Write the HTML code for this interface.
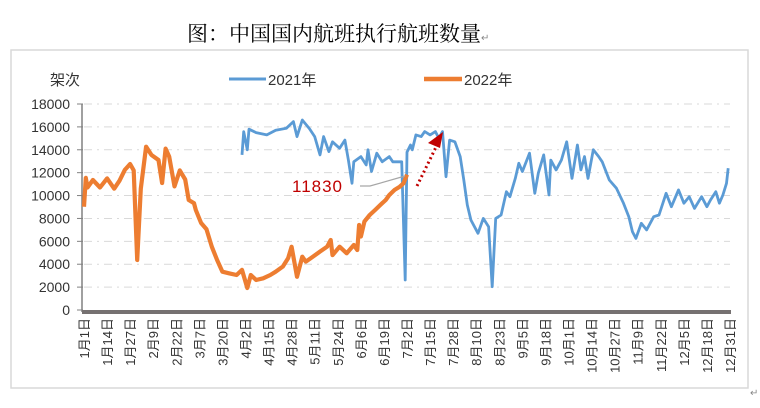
<!DOCTYPE html>
<html><head><meta charset="utf-8"><style>
html,body{margin:0;padding:0;background:#fff;width:760px;height:408px;overflow:hidden}
svg text{font-family:"Liberation Sans","Noto Sans CJK SC",sans-serif}
</style></head><body>
<svg id="chart" width="760" height="408" xmlns="http://www.w3.org/2000/svg">
<text x="187" y="41" font-size="21" style="font-family:'Liberation Serif','Noto Serif CJK SC','AR PL UMing CN',serif" fill="#000">图：中国国内航班执行航班数量<tspan font-size="10" fill="#888">↵</tspan></text>
<rect x="11" y="50" width="737" height="338" fill="none" stroke="#d9d9d9" stroke-width="1.5"/>
<text x="50" y="85" font-size="15" fill="#333">架次</text>
<line x1="229" y1="79" x2="266" y2="79" stroke="#5b9bd5" stroke-width="3"/>
<text x="268" y="85" font-size="15" fill="#333">2021年</text>
<line x1="424" y1="79" x2="462" y2="79" stroke="#ed7d31" stroke-width="4.5"/>
<text x="464" y="85" font-size="15" fill="#333">2022年</text>
<g id="grid"></g><g id="xlabels"></g><g id="series"></g>
<polyline points="360,186 370,186 405,176" fill="none" stroke="#a6a6a6" stroke-width="1.2"/>
<text x="292" y="192" font-size="17" fill="#c00000" letter-spacing="1">11830</text>
<line x1="417" y1="186" x2="437" y2="145" stroke="#c00000" stroke-width="3" stroke-dasharray="2,3"/>
<polygon points="443,132 428,143 440,148" fill="#c00000"/>
<text x="750" y="396" font-size="10" fill="#888">↵</text>
</svg>
<script>
const yTicks=[0,2000,4000,6000,8000,10000,12000,14000,16000,18000];
const xTickLabels=["1月1日","1月14日","1月27日","2月9日","2月22日","3月7日","3月20日","4月2日","4月15日","4月28日","5月11日","5月24日","6月6日","6月19日","7月2日","7月15日","7月28日","8月10日","8月23日","9月5日","9月18日","10月1日","10月14日","10月27日","11月9日","11月22日","12月5日","12月18日","12月31日"];
const xTickDays=[0,13,26,39,52,65,78,91,104,117,130,143,156,169,182,195,208,221,234,247,260,273,286,299,312,325,338,351,364];
const days2022=[0,1,2,5,9,13,17,20,23,26,28,30,32,35,38,42,44,46,48,51,54,57,59,62,63,66,69,72,75,78,82,86,89,92,94,97,101,105,108,112,115,117,120,123,125,129,133,137,139,140,144,148,152,154,155,156,158,161,164,167,170,172,175,178,180,182];
const values2022=[9030,11540,10700,11360,10700,11500,10600,11300,12240,12760,12200,4370,10600,14270,13550,13110,11100,14100,13400,10800,12200,11400,9610,9330,8740,7600,7050,5530,4370,3350,3200,3060,3500,1920,3060,2620,2770,3060,3350,3790,4520,5530,2900,4660,4220,4660,5100,5530,6120,4800,5530,4950,5680,5240,7430,6420,7720,8300,8740,9180,9610,10050,10490,10780,11070,11830];
const days2021=[89,90,92,93,97,103,108,114,118,120,123,127,130,133,135,138,140,144,147,149,151,152,156,159,160,162,165,168,172,174,179,181,182,184,185,187,190,192,195,198,200,202,204,206,209,212,214,216,218,222,225,228,230,232,235,238,240,243,245,247,251,254,256,259,262,263,266,269,272,275,278,280,282,284,287,290,292,296,300,304,307,309,311,314,317,321,324,328,331,335,338,341,344,348,351,353,356,358,360,362,363];
const values2021=[13550,15590,14000,15800,15500,15300,15700,15880,16460,15150,16600,15850,15150,13550,15150,13840,14700,14130,14850,13100,11070,12950,13400,12680,14000,12100,13700,12950,13400,12950,12950,2620,13800,14420,14000,15300,15150,15590,15300,15590,15000,15590,11650,14850,14700,13400,11360,9180,7860,6700,8000,7280,2040,8000,8300,10340,9900,11500,12820,12100,13700,10200,11950,13550,10050,13100,12240,13100,14700,11500,14420,12240,13400,11500,14000,13400,12950,11360,10640,9330,8150,6850,6260,7580,7000,8150,8300,10200,9030,10490,9330,9900,8880,9900,9030,9610,10340,9330,10050,11070,12390];
const NS="http://www.w3.org/2000/svg";
const X=d=>84+d*646/364, Y=v=>310-v*206/18000;
const grid=document.getElementById('grid');
yTicks.forEach(v=>{
 if(v>0){const l=document.createElementNS(NS,'line');
 l.setAttribute('x1',84);l.setAttribute('x2',730);l.setAttribute('y1',Y(v));l.setAttribute('y2',Y(v));
 l.setAttribute('stroke','#d9d9d9');l.setAttribute('stroke-dasharray','8,5,2,5');
 
 
 grid.appendChild(l);}
 const tk=document.createElementNS(NS,'line');
 tk.setAttribute('x1',77);tk.setAttribute('x2',83);tk.setAttribute('y1',Y(v));tk.setAttribute('y2',Y(v));tk.setAttribute('stroke','#808080');
 
 
 grid.appendChild(tk);
 const t=document.createElementNS(NS,'text');
 t.setAttribute('x',70);t.setAttribute('y',Y(v)+5);t.setAttribute('text-anchor','end');t.setAttribute('font-size','14');t.setAttribute('fill','#333');
 t.textContent=v;
 
 
 grid.appendChild(t);
});
const va=document.createElementNS(NS,'line');
va.setAttribute('x1',82);va.setAttribute('x2',82);va.setAttribute('y1',Y(18000));va.setAttribute('y2',312);va.setAttribute('stroke','#808080');va.setAttribute('stroke-width','1.5');


grid.appendChild(va);
const ha=document.createElementNS(NS,'line');
ha.setAttribute('x1',82);ha.setAttribute('x2',731);ha.setAttribute('y1',312);ha.setAttribute('y2',312);ha.setAttribute('stroke','#767171');ha.setAttribute('stroke-width','4');


grid.appendChild(ha);
const xl=document.getElementById('xlabels');
xTickLabels.forEach((s,i)=>{
 const t=document.createElementNS(NS,'text');
 const x=X(xTickDays[i])+5;
 t.setAttribute('transform','translate('+x+',318) rotate(-90)');
 t.setAttribute('text-anchor','end');t.setAttribute('font-size','13');t.setAttribute('fill','#333');
 t.textContent=s;
 
 
 xl.appendChild(t);
});
const sg=document.getElementById('series');
function line(days,vals,color,w,name){
 const p=document.createElementNS(NS,'polyline');
 p.setAttribute('points',days.map((d,i)=>X(d).toFixed(1)+','+Y(vals[i]).toFixed(1)).join(' '));
 p.setAttribute('fill','none');p.setAttribute('stroke',color);p.setAttribute('stroke-width',w);p.setAttribute('stroke-linejoin','round');
 
 
 sg.appendChild(p);
}
line(days2021,values2021,'#5b9bd5',2.8,'series-2021');
line(days2022,values2022,'#ed7d31',4.2,'series-2022');
</script>
</body></html>
